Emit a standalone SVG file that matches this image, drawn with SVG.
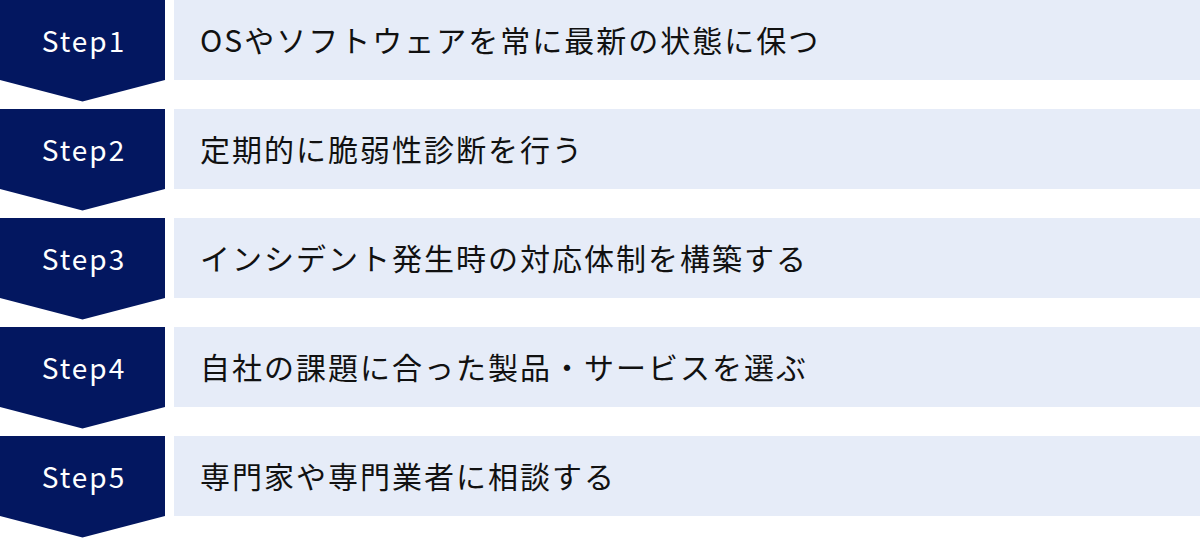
<svg xmlns="http://www.w3.org/2000/svg" width="1200" height="538" viewBox="0 0 1200 538">
<defs>
<style>
.step{fill:#031760}
.box{fill:#E6ECF8}
.lbl{font-family:"Noto Sans CJK JP","Noto Sans",sans-serif;font-size:28px;fill:#FFFFFF;letter-spacing:2px;text-anchor:middle}
.txt{font-family:"Noto Sans CJK JP","Noto Sans",sans-serif;font-size:30px;fill:#111111;letter-spacing:2px}
</style>
<path id="chev" d="M0 0H165V80L82.5 101.5L0 80Z"/>
</defs>
<g id="connectors"></g>
<g id="step1" transform="translate(0,0)">
<use href="#chev" class="step"/>
<rect class="box" x="174" y="0" width="1026" height="80"/>
<text class="lbl" x="84" y="52">Step1</text>
<text class="txt" x="200" y="52">OSやソフトウェアを常に最新の状態に保つ</text>
</g>
<g id="step2" transform="translate(0,109)">
<use href="#chev" class="step"/>
<rect class="box" x="174" y="0" width="1026" height="80"/>
<text class="lbl" x="84" y="52">Step2</text>
<text class="txt" x="200" y="52">定期的に脆弱性診断を行う</text>
</g>
<g id="step3" transform="translate(0,218)">
<use href="#chev" class="step"/>
<rect class="box" x="174" y="0" width="1026" height="80"/>
<text class="lbl" x="84" y="52">Step3</text>
<text class="txt" x="200" y="52">インシデント発生時の対応体制を構築する</text>
</g>
<g id="step4" transform="translate(0,327)">
<use href="#chev" class="step"/>
<rect class="box" x="174" y="0" width="1026" height="80"/>
<text class="lbl" x="84" y="52">Step4</text>
<text class="txt" x="200" y="52">自社の課題に合った製品・サービスを選ぶ</text>
</g>
<g id="step5" transform="translate(0,436)">
<use href="#chev" class="step"/>
<rect class="box" x="174" y="0" width="1026" height="80"/>
<text class="lbl" x="84" y="52">Step5</text>
<text class="txt" x="200" y="52">専門家や専門業者に相談する</text>
</g>
</svg>
